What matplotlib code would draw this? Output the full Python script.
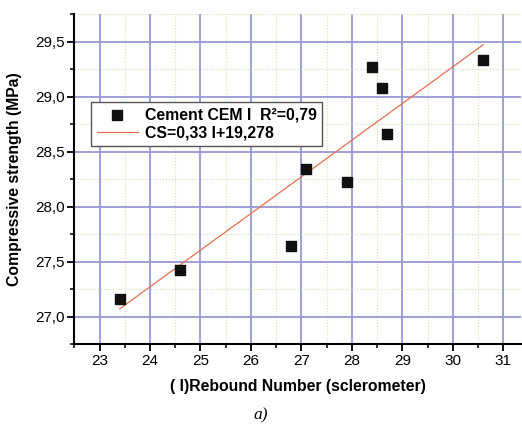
import matplotlib
matplotlib.use("Agg")
import matplotlib.pyplot as plt
from matplotlib.ticker import MultipleLocator, FuncFormatter

plt.rcParams['font.family'] = ['Liberation Sans', 'DejaVu Sans']

rebound = [23.4, 24.6, 26.8, 27.1, 27.9, 28.4, 28.6, 28.7, 30.6]
strength = [27.16, 27.42, 27.64, 28.34, 28.22, 29.27, 29.08, 28.66, 29.33]
fit_x = [23.4, 30.6]
fit_y = [27.07, 29.47]
series_label = "Cement CEM I  R\u00b2=0,79"
fit_label = "CS=0,33 I+19,278"
x_label = "( I)Rebound Number (sclerometer)"
y_label = "Compressive strength (MPa)"

fig = plt.figure(figsize=(5.22, 4.28), dpi=100)
ax = fig.add_axes([74.3/522, 1-344/428, (521-74.3)/522, (344-14)/428])
ax.set_xlim(22.5, 31.35)
ax.set_ylim(26.75, 29.75)

ax.xaxis.set_major_locator(MultipleLocator(1))
ax.xaxis.set_minor_locator(MultipleLocator(0.5))
ax.yaxis.set_major_locator(MultipleLocator(0.5))
ax.yaxis.set_minor_locator(MultipleLocator(0.25))
ax.yaxis.set_major_formatter(FuncFormatter(lambda v, p: f"{v:.1f}".replace('.', ',')))
ax.xaxis.set_major_formatter(FuncFormatter(lambda v, p: f"{v:.0f}"))

ax.grid(which='major', color='#9898d4', linewidth=1.3, zorder=0)
ax.grid(which='minor', color='#cfe0b0', linewidth=0.8, linestyle=':', zorder=0)
ax.set_axisbelow(True)

for s in ['top', 'right']:
    ax.spines[s].set_visible(False)
for s in ['left', 'bottom']:
    ax.spines[s].set_linewidth(1.5)

ax.tick_params(which='major', direction='out', length=5, width=1.3, labelsize=11, pad=2)
ax.tick_params(which='minor', direction='out', length=3, width=1.1)

ax.plot(fit_x, fit_y, color='#e27050', linewidth=0.9, label=fit_label, zorder=3)
ax.scatter(rebound, strength, marker='s', s=44, color='#111111', label=series_label, zorder=4)

handles, labels = ax.get_legend_handles_labels()
leg = ax.legend(handles[::-1], labels[::-1], loc='upper left',
                bbox_to_anchor=((91-74.3)/446.7, 1-(102-14)/330),
                prop={'weight': 'bold', 'size': 11.4}, frameon=True, fancybox=False,
                edgecolor='#555555', framealpha=1, borderpad=0.35, labelspacing=0.2,
                handlelength=2.6, handletextpad=0.45, borderaxespad=0)
leg.get_frame().set_linewidth(1.0)

ax.set_xlabel(x_label, fontsize=11.3, fontweight='bold', labelpad=8)
ax.set_ylabel(y_label, fontsize=11.3, fontweight='bold', labelpad=9)

fig.text(261/522, 1-415/428, "a)", ha='center', va='center', fontsize=12.5, style='italic',
         family=['Liberation Serif', 'DejaVu Serif'])

fig.savefig("out.png", dpi=100)
